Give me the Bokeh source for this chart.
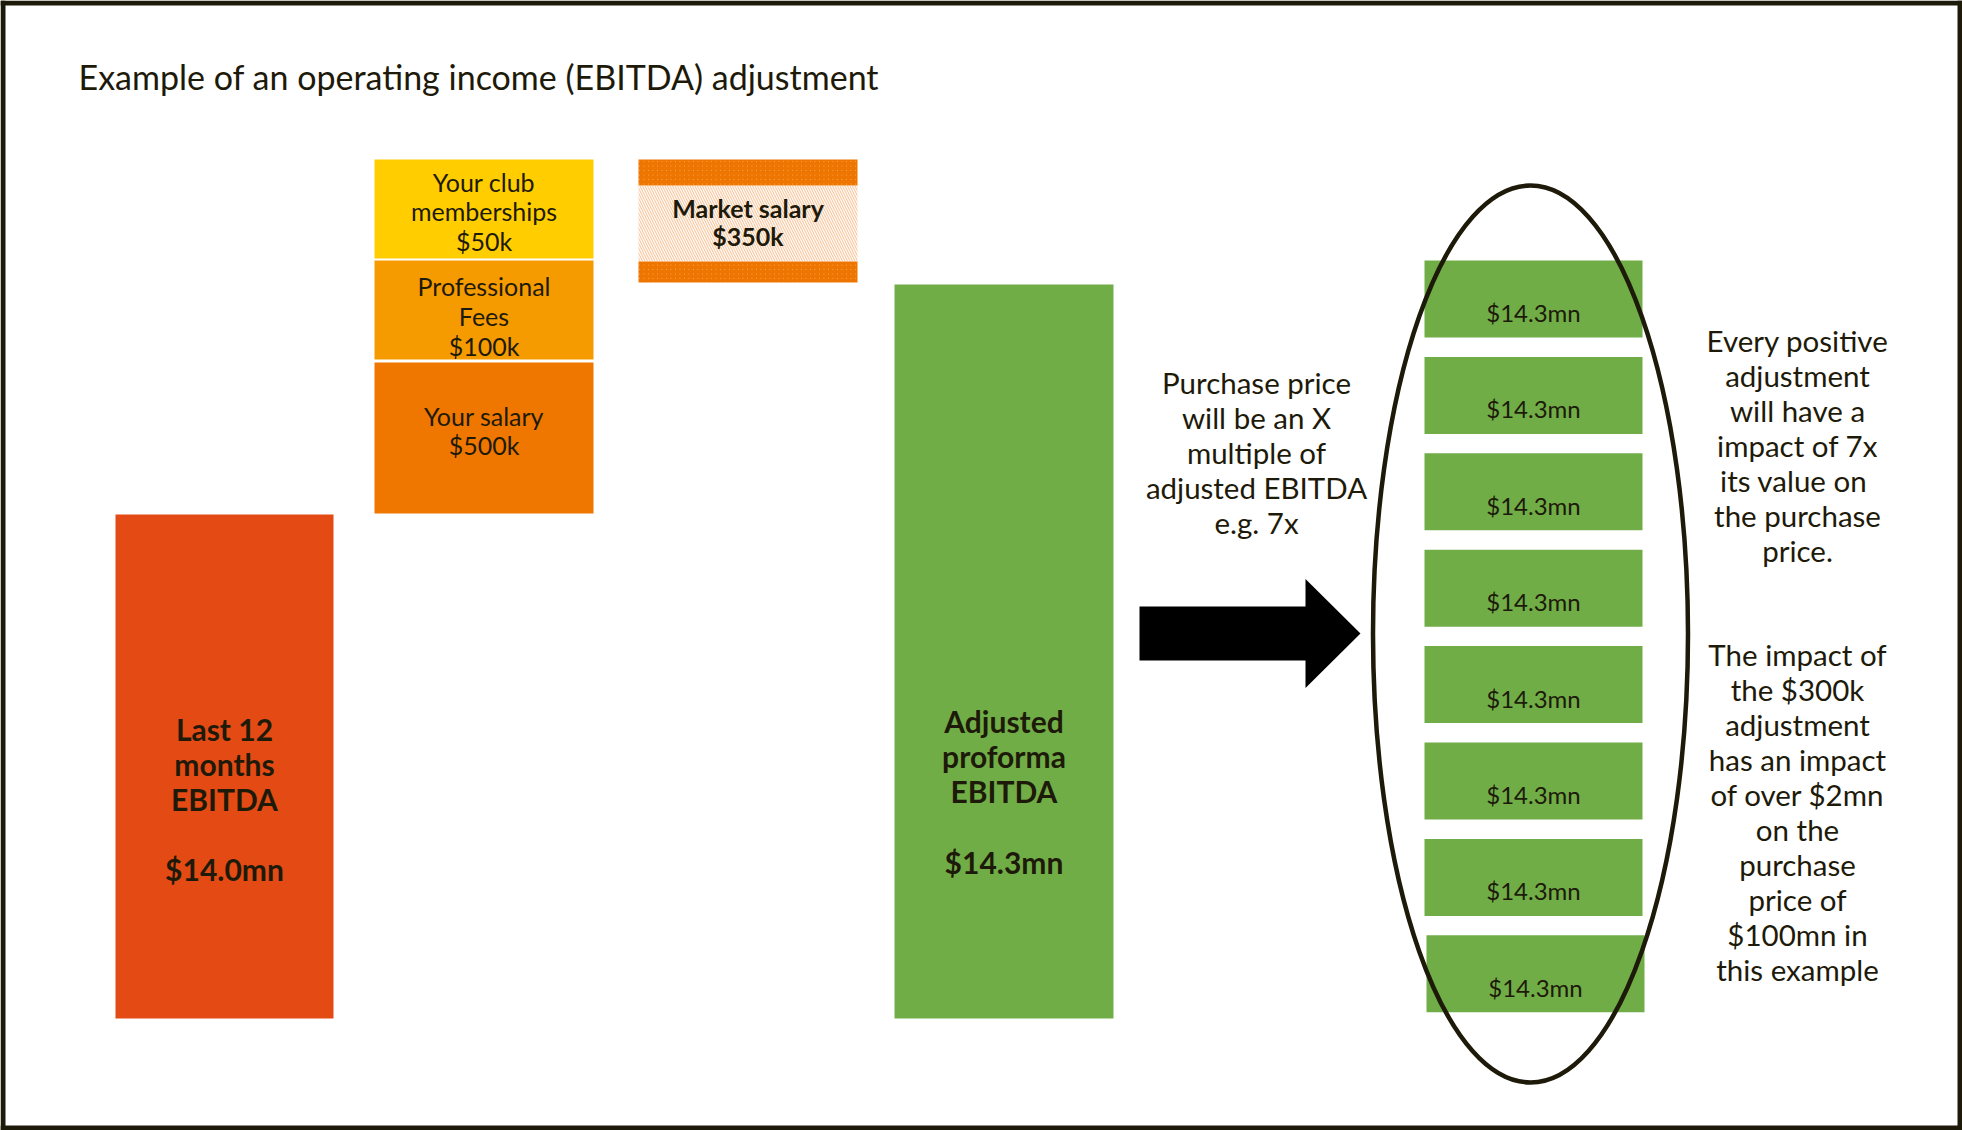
from bokeh.plotting import figure
from bokeh.models import Range1d
from bokeh.core.properties import value
from bokeh.embed import file_html
from bokeh.resources import INLINE

# ---------------- data ----------------
title = "Example of an operating income (EBITDA) adjustment"
categories = ["Last 12 months EBITDA", "Your salary", "Professional Fees",
              "Your club memberships", "Market salary", "Adjusted proforma EBITDA"]
values_mn = [14.0, 0.5, 0.1, 0.05, -0.35, 14.3]
value_labels = ["$14.0mn", "$500k", "$100k", "$50k", "$350k", "$14.3mn"]
name_lines = [["Last 12", "months", "EBITDA", ""], ["Your salary"], ["Professional", "Fees"],
              ["Your club", "memberships"], ["Market salary"], ["Adjusted", "proforma", "EBITDA", ""]]
multiple = 7
purchase_blocks = ["$14.3mn"] * 8
multiple_note = ["Purchase price", "will be an X", "multiple of", "adjusted EBITDA", "e.g. 7x"]
note_1 = ["Every positive", "adjustment", "will have a", "impact of 7x", "its value  on",
          "the purchase", "price."]
note_2 = ["The impact of", "the $300k", "adjustment", "has an impact", "of over $2mn",
          "on the", "purchase", "price of", "$100mn in", "this example"]

# ---------------- layout (reference pixel space) ----------------
FW, FH = 1962, 1130        # figure size
bar_x0 = [115, 374, 374, 374, 638, 894]
bar_x1 = [333, 593, 593, 593, 857, 1113]
bar_top = [514, 362, 260, 159, 159, 284]
bar_bot = [1018, 513, 359, 258, 282, 1018]
bar_colors = ["#E44A14", "#EF7700", "#F59B00", "#FFCD00", None, "#70AD47"]
label_first_y = [728, 415, 285, 181, 207, 720]
label_step = [35, 29.5, 30, 29.5, 28.5, 35.3]
label_bold = [True, False, False, False, True, True]
label_size = ["30px", "25px", "25px", "25px", "25px", "30px"]

FONT = "Lato"
INK = "#1E1A0A"

p = figure(width=FW, height=FH, output_backend="svg", toolbar_location=None,
           x_range=Range1d(0, FW), y_range=Range1d(FH, 0), min_border=0,
           background_fill_color="white", border_fill_color="white")
p.axis.visible = False
p.grid.visible = False
p.outline_line_color = None

# frame border
bw = 5
L, R, T, B = 0, FW, 0, FH
p.quad(left=[L, L, L, R - bw], right=[R, R, L + bw, R], top=[T, B - bw, T, T],
       bottom=[T + bw, B, B, B], fill_color=INK, line_color=None)

# title
p.text(x=[78], y=[76], text=[title], text_font=value(FONT), text_font_size="34px",
       text_color=INK, text_align="left", text_baseline="middle")

# solid bars
solid = [i for i in range(len(categories)) if bar_colors[i] is not None]
p.quad(left=[bar_x0[i] for i in solid], right=[bar_x1[i] for i in solid],
       top=[bar_top[i] for i in solid], bottom=[bar_bot[i] for i in solid],
       fill_color=[bar_colors[i] for i in solid], line_color=None)

# hatched "Market salary" box (negative adjustment)
mi = 4
band = 26
bb = 21
p.quad(left=[bar_x0[mi]], right=[bar_x1[mi]], top=[bar_top[mi] + band], bottom=[bar_bot[mi] - bb],
       fill_color="white", line_color=None, hatch_pattern="\\", hatch_color="#FAC9A2",
       hatch_scale=5, hatch_weight=1.2)
p.quad(left=[bar_x0[mi], bar_x0[mi]], right=[bar_x1[mi], bar_x1[mi]],
       top=[bar_top[mi], bar_bot[mi] - bb], bottom=[bar_top[mi] + band, bar_bot[mi]],
       fill_color="white", line_color=None, hatch_pattern="\\", hatch_color="#EE7600",
       hatch_scale=4.5, hatch_weight=2.4)

# bar labels
for i in range(len(categories)):
    lines = name_lines[i] + [value_labels[i]]
    xs = [(bar_x0[i] + bar_x1[i]) / 2] * len(lines)
    ys = [label_first_y[i] + k * label_step[i] for k in range(len(lines))]
    p.text(x=xs, y=ys, text=lines, text_font=value(FONT), text_font_size=label_size[i],
           text_font_style="bold" if label_bold[i] else "normal", text_color=INK,
           text_align="center", text_baseline="middle")

# arrow
ax0, ax1, atip = 1139, 1305, 1360
ay_c, shaft_h, head_h = 633, 54, 109
p.patch(x=[ax0, ax1, ax1, atip, ax1, ax1, ax0],
        y=[ay_c - shaft_h / 2, ay_c - shaft_h / 2, ay_c - head_h / 2, ay_c,
           ay_c + head_h / 2, ay_c + shaft_h / 2, ay_c + shaft_h / 2],
        fill_color="black", line_color=None)

p.text(x=[1256] * len(multiple_note), y=[382 + 35 * k for k in range(len(multiple_note))],
       text=multiple_note, text_font=value(FONT), text_font_size="29.5px", text_color=INK,
       text_align="center", text_baseline="middle")

# purchase price blocks
n = len(purchase_blocks)
bx0 = [1424 + (2 if k == n - 1 else 0) for k in range(n)]
btop = [260 + 96.4 * k for k in range(n)]
bh = 77
p.quad(left=bx0, right=[x + 218 for x in bx0], top=btop, bottom=[t + bh for t in btop],
       fill_color="#70AD47", line_color=None)
p.text(x=[x + 109 for x in bx0], y=[t + 52 for t in btop], text=purchase_blocks,
       text_font=value(FONT), text_font_size="24px", text_color=INK,
       text_align="center", text_baseline="middle")

# ellipse
p.ellipse(x=[1530], y=[633.5], width=[315], height=[897], fill_color=None,
          line_color=INK, line_width=4.5)

# notes
p.text(x=[1797] * len(note_1), y=[340 + 35 * k for k in range(len(note_1))], text=note_1,
       text_font=value(FONT), text_font_size="29.5px", text_color=INK,
       text_align="center", text_baseline="middle")
p.text(x=[1797] * len(note_2), y=[654 + 35 * k for k in range(len(note_2))], text=note_2,
       text_font=value(FONT), text_font_size="29.5px", text_color=INK,
       text_align="center", text_baseline="middle")

open("out.html", "w").write(file_html(p, INLINE))
